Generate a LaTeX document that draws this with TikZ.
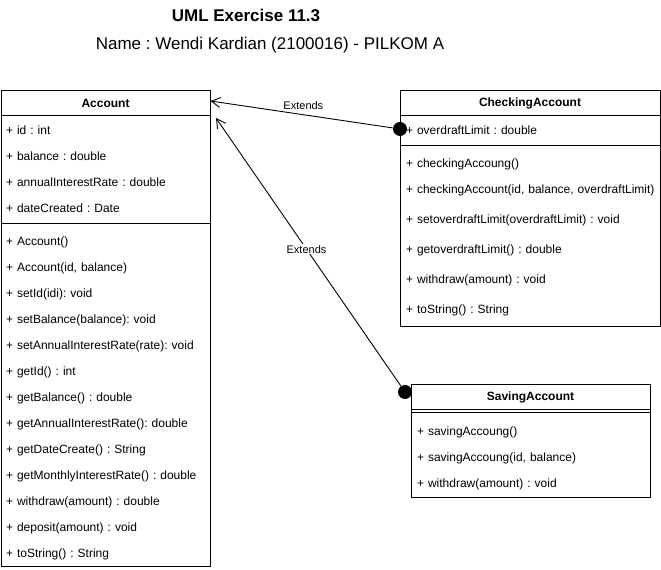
\documentclass[tikz,border=0pt]{standalone}
\usepackage{fontspec}
\setmainfont{Liberation Sans}
\usetikzlibrary{positioning,arrows.meta}
\frenchspacing

\begin{document}
\begin{tikzpicture}[x=1pt, y=1pt,
node distance=26pt, line width=1pt,
classbox/.style={draw, rectangle, anchor=north west, inner sep=0pt},
headnode/.style={font=\fontsize{12}{14}\selectfont\bfseries},
rownode/.style={inner sep=0pt, align=left, font=\fontsize{12}{14}\selectfont},
accrow/.style={rownode, text width=198pt},
chkrow/.style={rownode, text width=250pt},
savrow/.style={rownode, text width=228pt},
dotnode/.style={circle, fill=black, inner sep=0pt, minimum size=14pt},
extends/.style={-{Straight Barb[length=9pt,width=10pt]}, line width=0.9pt},
lbl/.style={font=\fontsize{11}{13}\selectfont, inner sep=1pt}]
\tikzstyle{every node}=[font=\fontsize{12}{14}\selectfont]
\useasboundingbox (0,0) rectangle (661,570);

% title
\node[font=\fontsize{17}{20}\selectfont\bfseries] (title) at (246,555) {UML Exercise 11.3};
\node[font=\fontsize{17}{20}\selectfont] (name) at (270,525) {Name : Wendi Kardian (2100016) - PILKOM A};

% Account
\node[classbox, minimum width=209pt, minimum height=476pt] (acc) at (1,480) {};
\node[headnode] (acchead) at (105.5,466.5) {Account};
\draw ([yshift=-26pt]acc.north west) -- ([yshift=-26pt]acc.north east);
\draw ([yshift=-134pt]acc.north west) -- ([yshift=-134pt]acc.north east);
\node[accrow] (a1) at (105,440) {+ id : int};
\node[accrow] (a2) [below of=a1] {+ balance : double};
\node[accrow] (a3) [below of=a2] {+ annualInterestRate : double};
\node[accrow] (a4) [below of=a3] {+ dateCreated : Date};
\node[accrow] (m1) at (105,328) {+ Account()};
\node[accrow] (m2) [below of=m1] {+ Account(id, balance)};
\node[accrow] (m3) [below of=m2] {+ setId(idi): void};
\node[accrow] (m4) [below of=m3] {+ setBalance(balance): void};
\node[accrow] (m5) [below of=m4] {+ setAnnualInterestRate(rate): void};
\node[accrow] (m6) [below of=m5] {+ getId() : int};
\node[accrow] (m7) [below of=m6] {+ getBalance() : double};
\node[accrow] (m8) [below of=m7] {+ getAnnualInterestRate(): double};
\node[accrow] (m9) [below of=m8] {+ getDateCreate() : String};
\node[accrow] (m10) [below of=m9] {+ getMonthlyInterestRate() : double};
\node[accrow] (m11) [below of=m10] {+ withdraw(amount) : double};
\node[accrow] (m12) [below of=m11] {+ deposit(amount) : void};
\node[accrow] (m13) [below of=m12] {+ toString() : String};

% CheckingAccount
\node[classbox, minimum width=260pt, minimum height=236pt] (chk) at (400,480) {};
\node[headnode] (chkhead) at (530,466.5) {CheckingAccount};
\draw ([yshift=-26pt]chk.north west) -- ([yshift=-26pt]chk.north east);
\draw ([yshift=-56pt]chk.north west) -- ([yshift=-56pt]chk.north east);
\node[chkrow] (c1) at (531,440) {+ overdraftLimit : double};
\node[chkrow] (cm1) at (531,406) {+ checkingAccoung()};
\node[chkrow] (cm2) [below of=cm1] {+ checkingAccount(id, balance, overdraftLimit)};
\node[chkrow, node distance=30pt] (cm3) [below of=cm2] {+ setoverdraftLimit(overdraftLimit) : void};
\node[chkrow, node distance=30pt] (cm4) [below of=cm3] {+ getoverdraftLimit() : double};
\node[chkrow, node distance=30pt] (cm5) [below of=cm4] {+ withdraw(amount) : void};
\node[chkrow, node distance=30pt] (cm6) [below of=cm5] {+ toString() : String};

% SavingAccount
\node[classbox, minimum width=239pt, minimum height=113pt] (sav) at (411,186) {};
\node[headnode] (savhead) at (530.5,172.5) {SavingAccount};
\draw ([yshift=-26pt]sav.north west) -- ([yshift=-26pt]sav.north east);
\draw ([yshift=-29pt]sav.north west) -- ([yshift=-29pt]sav.north east);
\node[savrow] (sm1) at (531,138) {+ savingAccoung()};
\node[savrow] (sm2) [below of=sm1] {+ savingAccoung(id, balance)};
\node[savrow] (sm3) [below of=sm2] {+ withdraw(amount) : void};

% extends
\node[dotnode] (chkdot) at (400,441) {};
\node[dotnode] (savdot) at (405,178) {};
\coordinate (tipa) at (210.5,469);
\coordinate (tipb) at (216,452);
\draw[extends] (chkdot) -- (tipa) node[lbl, pos=0.49, yshift=9pt] {Extends};
\draw[extends] (savdot) -- (tipb) node[lbl, fill=white, pos=0.51] {Extends};
\end{tikzpicture}
\end{document}
